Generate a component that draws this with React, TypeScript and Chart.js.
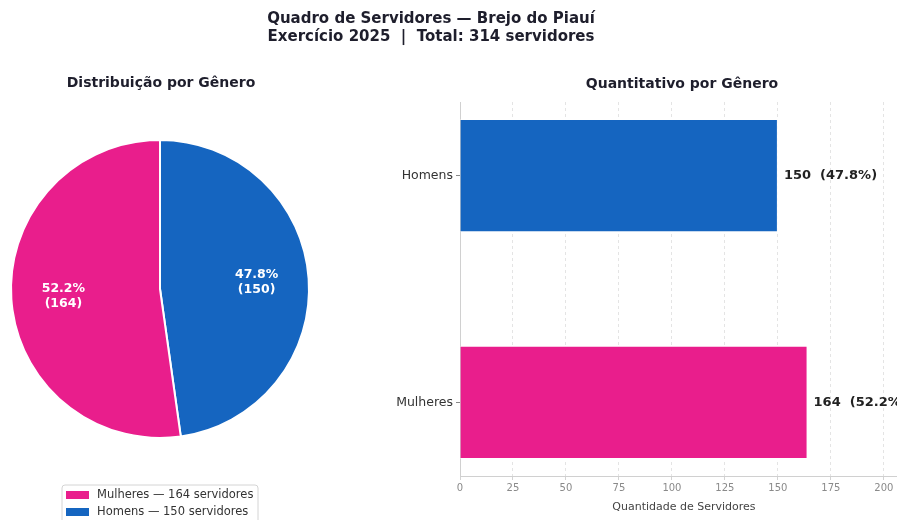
import React, { useEffect, useRef } from 'react';
import { Chart, registerables } from 'chart.js';

Chart.register(...registerables);

const categories = ['Mulheres', 'Homens'];
const counts = [164, 150];
const sliceColors = ['#E91E8C', '#1565C0'];
const xTickValues = [0, 25, 50, 75, 100, 125, 150, 175, 200];
const legendLabels = ['Mulheres — 164 servidores', 'Homens — 150 servidores'];
const mainTitle = ['Quadro de Servidores — Brejo do Piauí', 'Exercício 2025  |  Total: 314 servidores'];
const pieTitle = 'Distribuição por Gênero';
const barTitle = 'Quantitativo por Gênero';
const xAxisTitle = 'Quantidade de Servidores';

const FONT = "'DejaVu Sans', sans-serif";
const TITLE_COLOR = '#1e1e2c';
const total = counts.reduce((a, b) => a + b, 0);
const pct = (v: number) => ((v / total) * 100).toFixed(1) + '%';

const pieDecor = {
  id: 'pieDecor',
  afterDraw(chart: any) {
    const ctx = chart.ctx;
    ctx.save();
    // main title
    ctx.fillStyle = TITLE_COLOR;
    ctx.textAlign = 'center';
    ctx.textBaseline = 'middle';
    ctx.font = `bold 15px ${FONT}`;
    ctx.fillText(mainTitle[0], 431, 19);
    ctx.fillText(mainTitle[1], 431, 37);
    // pie title
    ctx.font = `bold 14px ${FONT}`;
    ctx.fillText(pieTitle, 161, 83);
    // slice labels
    const meta = chart.getDatasetMeta(0);
    const vals = chart.data.datasets[0].data as number[];
    ctx.fillStyle = '#ffffff';
    ctx.font = `bold 12.5px ${FONT}`;
    meta.data.forEach((arc: any, i: number) => {
      const p = arc.getProps(['x', 'y', 'startAngle', 'endAngle', 'outerRadius'], true);
      const mid = (p.startAngle + p.endAngle) / 2;
      const r = p.outerRadius * 0.65;
      const x = p.x + Math.cos(mid) * r;
      const y = p.y + Math.sin(mid) * r;
      ctx.fillText(pct(vals[i]), x, y - 7.5);
      ctx.fillText(`(${vals[i]})`, x, y + 7.5);
    });
    // legend
    const bx = 62, by = 485, bw = 196, bh = 40, rr = 3;
    ctx.beginPath();
    ctx.moveTo(bx + rr, by);
    ctx.lineTo(bx + bw - rr, by);
    ctx.arcTo(bx + bw, by, bx + bw, by + rr, rr);
    ctx.lineTo(bx + bw, by + bh - rr);
    ctx.arcTo(bx + bw, by + bh, bx + bw - rr, by + bh, rr);
    ctx.lineTo(bx + rr, by + bh);
    ctx.arcTo(bx, by + bh, bx, by + bh - rr, rr);
    ctx.lineTo(bx, by + rr);
    ctx.arcTo(bx, by, bx + rr, by, rr);
    ctx.closePath();
    ctx.fillStyle = 'rgba(255,255,255,0.9)';
    ctx.fill();
    ctx.strokeStyle = '#d4d4d4';
    ctx.lineWidth = 1;
    ctx.stroke();
    ctx.textAlign = 'left';
    ctx.font = `11.5px ${FONT}`;
    legendLabels.forEach((lab, i) => {
      const cy = 495 + i * 17;
      ctx.fillStyle = sliceColors[i];
      ctx.fillRect(66, cy - 4, 23, 8);
      ctx.fillStyle = '#333333';
      ctx.fillText(lab, 97, cy);
    });
    ctx.restore();
  },
};

const barDecor = {
  id: 'barDecor',
  afterDraw(chart: any) {
    const ctx = chart.ctx;
    const ca = chart.chartArea;
    ctx.save();
    ctx.fillStyle = TITLE_COLOR;
    ctx.textAlign = 'center';
    ctx.textBaseline = 'middle';
    ctx.font = `bold 14px ${FONT}`;
    ctx.fillText(barTitle, (ca.left + ca.right) / 2, 84);
    ctx.font = `11px ${FONT}`;
    ctx.fillStyle = '#444444';
    const xs = chart.scales.x;
    ctx.fillText(xAxisTitle, (xs.getPixelForValue(0) + xs.getPixelForValue(200)) / 2 + 12, 507);
    // value labels
    const meta = chart.getDatasetMeta(0);
    ctx.textAlign = 'left';
    ctx.font = `bold 13px ${FONT}`;
    ctx.fillStyle = '#222222';
    meta.data.forEach((bar: any, i: number) => {
      ctx.fillText(`${counts[i]}  (${pct(counts[i])})`, bar.x + 6, bar.y);
    });
    ctx.restore();
  },
};

export default function App() {
  const pieRef = useRef<HTMLCanvasElement>(null);
  const barRef = useRef<HTMLCanvasElement>(null);

  useEffect(() => {
    const pie = new Chart(pieRef.current!, {
      type: 'pie',
      data: {
        labels: [...categories].reverse(),
        datasets: [
          {
            data: [...counts].reverse(),
            backgroundColor: [...sliceColors].reverse(),
            borderColor: '#ffffff',
            borderWidth: 2,
          },
        ],
      },
      options: {
        responsive: false,
        animation: false,
        devicePixelRatio: 1,
        layout: { padding: { left: 10, right: 897 - 310, top: 139, bottom: 81 } },
        plugins: { legend: { display: false }, tooltip: { enabled: false } },
      },
      plugins: [pieDecor],
    });

    const bar = new Chart(barRef.current!, {
      type: 'bar',
      data: {
        datasets: [
          {
            data: categories.map((c, i) => ({ x: counts[i], y: i })),
            backgroundColor: sliceColors,
            borderColor: '#ffffff',
            borderWidth: 1,
            barPercentage: 0.5,
            categoryPercentage: 1,
          },
        ],
      },
      options: {
        indexAxis: 'y',
        responsive: false,
        animation: false,
        devicePixelRatio: 1,
        layout: { padding: { left: 0, right: 16, top: 102, bottom: 0 } },
        plugins: { legend: { display: false }, tooltip: { enabled: false } },
        scales: {
          x: {
            type: 'linear',
            min: 0,
            max: 209.5,
            afterBuildTicks: (s: any) => {
              s.ticks = xTickValues.map((v) => ({ value: v }));
            },
            afterFit: (s: any) => {
              s.height = 44;
            },
            ticks: { font: { family: FONT, size: 10 }, color: '#8a8a8a', padding: 2 },
            grid: { color: '#dedede', lineWidth: 0.8, tickLength: 4, tickColor: '#c8c8c8' },
            border: { display: true, color: '#d0d0d0', width: 1, dash: [3, 3] },
          },
          y: {
            type: 'linear',
            min: -0.325,
            max: 1.325,
            offset: false,
            afterBuildTicks: (s: any) => {
              s.ticks = [{ value: 0 }, { value: 1 }];
            },
            afterFit: (s: any) => {
              s.width = 80;
            },
            ticks: {
              font: { family: FONT, size: 12.5 },
              color: '#333333',
              padding: 3,
              callback: (v: any) => categories[v] ?? '',
            },
            grid: { offset: false, drawOnChartArea: false, drawTicks: true, tickLength: 4, color: '#888888' },
            border: { display: true, color: '#d0d0d0', width: 1 },
          },
        },
      },
      plugins: [barDecor],
    });

    return () => {
      pie.destroy();
      bar.destroy();
    };
  }, []);

  return (
    <div
      style={{
        position: 'fixed',
        left: 0,
        top: 0,
        width: 897,
        height: 520,
        overflow: 'hidden',
        background: '#ffffff',
      }}
    >
      <canvas
        ref={pieRef}
        width={897}
        height={520}
        style={{ position: 'absolute', left: 0, top: 0, width: 897, height: 520 }}
      />
      <canvas
        ref={barRef}
        width={540}
        height={520}
        style={{ position: 'absolute', left: 380, top: 0, width: 540, height: 520 }}
      />
    </div>
  );
}
